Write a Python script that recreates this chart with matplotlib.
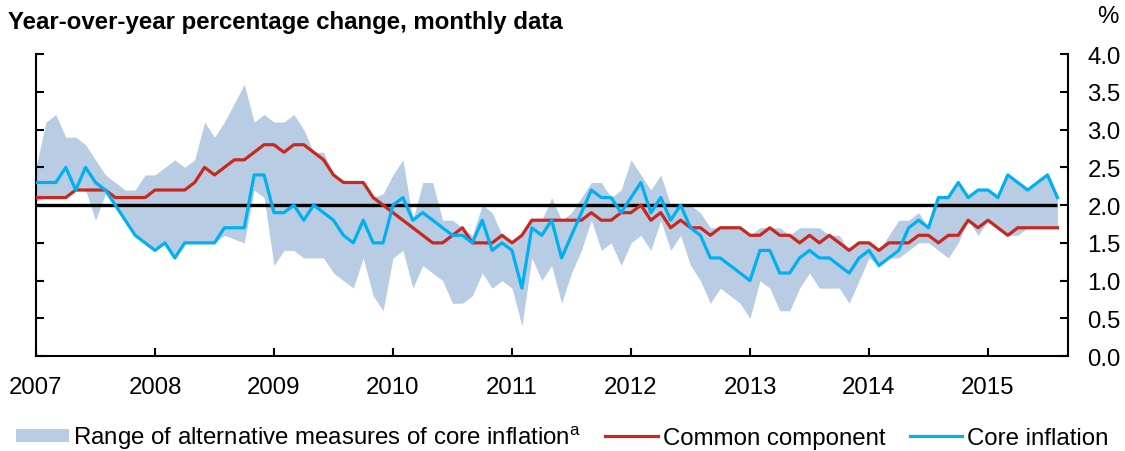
import numpy as np
import matplotlib
matplotlib.use('Agg')
from matplotlib import pyplot as plt
from matplotlib.patches import Patch
from matplotlib.lines import Line2D

plt.rcParams['font.family'] = ['Liberation Sans', 'DejaVu Sans']
plt.rcParams['mathtext.fontset'] = 'custom'
plt.rcParams['mathtext.rm'] = 'Liberation Sans'

# monthly data, Jan 2007 - Aug 2015
start_year = 2007
core = [2.3, 2.3, 2.3, 2.5, 2.2, 2.5, 2.3, 2.2, 2.0, 1.8, 1.6, 1.5,
        1.4, 1.5, 1.3, 1.5, 1.5, 1.5, 1.5, 1.7, 1.7, 1.7, 2.4, 2.4,
        1.9, 1.9, 2.0, 1.8, 2.0, 1.9, 1.8, 1.6, 1.5, 1.8, 1.5, 1.5,
        2.0, 2.1, 1.8, 1.9, 1.8, 1.7, 1.6, 1.6, 1.5, 1.8, 1.4, 1.5,
        1.4, 0.9, 1.7, 1.6, 1.8, 1.3, 1.6, 1.9, 2.2, 2.1, 2.1, 1.9,
        2.1, 2.3, 1.9, 2.1, 1.8, 2.0, 1.7, 1.6, 1.3, 1.3, 1.2, 1.1,
        1.0, 1.4, 1.4, 1.1, 1.1, 1.3, 1.4, 1.3, 1.3, 1.2, 1.1, 1.3,
        1.4, 1.2, 1.3, 1.4, 1.7, 1.8, 1.7, 2.1, 2.1, 2.3, 2.1, 2.2,
        2.2, 2.1, 2.4, 2.3, 2.2, 2.3, 2.4, 2.1]
common = [2.1, 2.1, 2.1, 2.1, 2.2, 2.2, 2.2, 2.2, 2.1, 2.1, 2.1, 2.1,
          2.2, 2.2, 2.2, 2.2, 2.3, 2.5, 2.4, 2.5, 2.6, 2.6, 2.7, 2.8,
          2.8, 2.7, 2.8, 2.8, 2.7, 2.6, 2.4, 2.3, 2.3, 2.3, 2.1, 2.0,
          1.9, 1.8, 1.7, 1.6, 1.5, 1.5, 1.6, 1.7, 1.5, 1.5, 1.5, 1.6,
          1.5, 1.6, 1.8, 1.8, 1.8, 1.8, 1.8, 1.8, 1.9, 1.8, 1.8, 1.9,
          1.9, 2.0, 1.8, 1.9, 1.7, 1.8, 1.7, 1.7, 1.6, 1.7, 1.7, 1.7,
          1.6, 1.6, 1.7, 1.6, 1.6, 1.5, 1.6, 1.5, 1.6, 1.5, 1.4, 1.5,
          1.5, 1.4, 1.5, 1.5, 1.5, 1.6, 1.6, 1.5, 1.6, 1.6, 1.8, 1.7,
          1.8, 1.7, 1.6, 1.7, 1.7, 1.7, 1.7, 1.7]
range_hi = [2.5, 3.1, 3.2, 2.9, 2.9, 2.8, 2.6, 2.4, 2.3, 2.2, 2.2, 2.4,
            2.4, 2.5, 2.6, 2.5, 2.6, 3.1, 2.9, 3.1, 3.35, 3.6, 3.1, 3.2,
            3.1, 3.1, 3.2, 3.0, 2.7, 2.7, 2.4, 2.3, 2.3, 2.3, 2.1, 2.15,
            2.4, 2.6, 1.8, 2.3, 2.3, 1.8, 1.8, 1.7, 1.6, 2.0, 1.9, 1.6,
            1.5, 1.6, 1.8, 1.8, 2.1, 1.8, 1.9, 2.1, 2.3, 2.3, 2.1, 2.2,
            2.6, 2.4, 2.2, 2.4, 2.0, 2.0, 2.0, 1.9, 1.7, 1.7, 1.7, 1.7,
            1.6, 1.7, 1.7, 1.7, 1.6, 1.7, 1.7, 1.7, 1.6, 1.6, 1.4, 1.5,
            1.5, 1.4, 1.6, 1.8, 1.8, 1.9, 1.7, 2.1, 2.1, 2.3, 2.1, 2.2,
            2.2, 2.1, 2.4, 2.3, 2.2, 2.3, 2.4, 2.1]
range_lo = [2.05, 2.1, 2.1, 2.1, 2.2, 2.2, 1.8, 2.15, 2.0, 1.8, 1.6, 1.5,
            1.4, 1.5, 1.3, 1.5, 1.5, 1.5, 1.5, 1.6, 1.55, 1.5, 2.2, 2.1,
            1.2, 1.4, 1.4, 1.3, 1.3, 1.3, 1.1, 1.0, 0.9, 1.3, 0.8, 0.6,
            1.3, 1.4, 0.9, 1.2, 1.1, 1.0, 0.7, 0.7, 0.8, 1.1, 0.9, 1.0,
            0.9, 0.4, 1.3, 1.0, 1.2, 0.7, 1.1, 1.4, 1.8, 1.4, 1.5, 1.2,
            1.5, 1.6, 1.4, 1.8, 1.4, 1.6, 1.2, 1.0, 0.7, 0.9, 0.8, 0.7,
            0.5, 1.0, 0.9, 0.6, 0.6, 0.9, 1.1, 0.9, 0.9, 0.9, 0.7, 1.0,
            1.3, 1.2, 1.3, 1.3, 1.4, 1.5, 1.5, 1.4, 1.3, 1.5, 1.8, 1.6,
            1.8, 1.7, 1.6, 1.6, 1.7, 1.7, 1.7, 1.7]
target = 2.0
years = list(range(2007, 2016))
yticks = [0.0, 0.5, 1.0, 1.5, 2.0, 2.5, 3.0, 3.5, 4.0]

band_col = '#b8cce4'
red = '#c8291f'
blue = '#00b0f0'
fs = 17.3

t = start_year + np.arange(len(core)) / 12.0

fig = plt.figure(figsize=(11.25, 4.52), dpi=100)
ax = fig.add_axes([0.032, 0.21, 0.9173, 0.668])

ax.fill_between(t, range_lo, range_hi, color=band_col, lw=0, zorder=1)
ax.hlines(target, t[0], t[-1], color='black', lw=2.4, zorder=2)
ax.plot(t, common, color=red, lw=2.3, zorder=3)
ax.plot(t, core, color=blue, lw=2.3, zorder=4)

ax.set_xlim(2007, 2015.672)
ax.set_ylim(0, 4)
ax.set_xticks(years)
ax.set_xticklabels([str(y) for y in years])
ax.set_yticks(yticks)
ax.set_yticklabels(['%.1f' % v for v in yticks])

ax.spines['top'].set_visible(False)
for s in ['left', 'right', 'bottom']:
    ax.spines[s].set_linewidth(1.5)
ax.yaxis.tick_right()
ax.tick_params(axis='y', which='both', left=True, right=True, labelleft=False,
               labelright=True, direction='in', length=6, width=1.5,
               labelsize=fs, pad=14)
ax.tick_params(axis='x', direction='in', length=6, width=1.5, labelsize=fs, pad=14)

fig.text(0.007, 0.951, 'Year-over-year percentage change, monthly data',
         fontsize=fs, fontweight='bold', va='center', ha='left')
fig.text(0.975, 0.962, '%', fontsize=fs, va='center', ha='left')

handles = [Patch(facecolor=band_col, edgecolor='none'),
           Line2D([], [], color=red, lw=2.3),
           Line2D([], [], color=blue, lw=2.3)]
labels = ['Range of alternative measures of core inflation$^{\\mathrm{a}}$',
          'Common component', 'Core inflation']
fig.legend(handles, labels, loc='center left', bbox_to_anchor=(0.014, 0.031),
           ncol=3, frameon=False, fontsize=fs, handlelength=2.2,
           handleheight=0.5, handletextpad=0.2, columnspacing=1.0,
           borderpad=0, borderaxespad=0)

fig.savefig('out.png', dpi=100)
